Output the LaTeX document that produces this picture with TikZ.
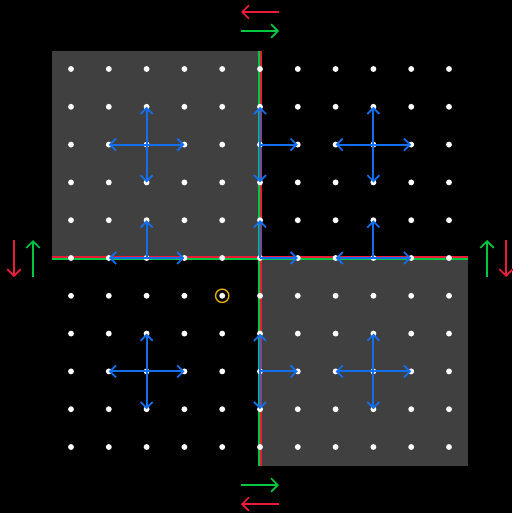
\documentclass[tikz,border=0pt]{standalone}
\usetikzlibrary{arrows.meta}
\definecolor{bgray}{RGB}{64,64,64}
\definecolor{ablue}{RGB}{18,112,240}
\definecolor{ared}{RGB}{236,28,56}
\definecolor{agreen}{RGB}{0,200,64}
\definecolor{agold}{RGB}{230,176,0}
\tikzset{
  blu/.style={draw=ablue, line width=1.6pt, -{Straight Barb[length=4.5pt,width=9pt,line width=1.3pt]}},
  sidearrow/.style={line width=1.5pt, -{Straight Barb[length=5pt,width=10pt,line width=1.3pt]}},
  dotnode/.style={circle, fill=white, inner sep=0pt, minimum size=4.4pt},
}
\begin{document}
\begin{tikzpicture}[x=0.75pt,y=-0.75pt]
\fill[black] (0,0) rectangle (512,513);
\useasboundingbox (0,0) rectangle (512,513);
% gray squares
\fill[bgray] (52,51) rectangle (260,258);
\fill[bgray] (260,258) rectangle (468,466);
% grid coordinates
\foreach \i in {0,...,10}{
  \foreach \j in {0,...,10}{
    \coordinate (p-\i-\j) at ({71+37.8*\i},{69+37.8*\j});
  }
}
% boundary lines
\coordinate (vt) at (260,51);
\coordinate (vb) at (260,466);
\coordinate (hl) at (52,258);
\coordinate (hr) at (468,258);
\draw[agreen, line width=1.5pt] ([xshift=-0.9pt]vt) -- ([xshift=-0.9pt]vb);
\draw[ared, line width=1.5pt] ([xshift=0.9pt]vt) -- ([xshift=0.9pt]vb);
\draw[ared, line width=1.5pt] ([yshift=0.9pt]hl) -- ([yshift=0.9pt]hr);
\draw[agreen, line width=1.5pt] ([yshift=-0.9pt]hl) -- ([yshift=-0.9pt]hr);
% dots
\foreach \i in {0,...,10}{
  \foreach \j in {0,...,10}{
    \node[dotnode] (d-\i-\j) at (p-\i-\j) {};
  }
}
% yellow ring
\node[circle, draw=agold, line width=1pt, inner sep=0pt, minimum size=10pt] (ring) at (p-4-6) {};
% blue full crosses
\foreach \i/\j in {2/2,8/2,2/8,8/8}{
  \pgfmathtruncatemacro{\ia}{\i-1}
  \pgfmathtruncatemacro{\ib}{\i+1}
  \pgfmathtruncatemacro{\ja}{\j-1}
  \pgfmathtruncatemacro{\jb}{\j+1}
  \draw[blu] (p-\i-\j) -- (p-\ia-\j);
  \draw[blu] (p-\i-\j) -- (p-\ib-\j);
  \draw[blu] (p-\i-\j) -- (p-\i-\ja);
  \draw[blu] (p-\i-\j) -- (p-\i-\jb);
}
% boundary half crosses
\draw[blu] (p-5-2) -- (p-5-1);
\draw[blu] (p-5-2) -- (p-5-3);
\draw[blu] (p-5-2) -- (p-6-2);
\draw[blu] (p-5-8) -- (p-5-7);
\draw[blu] (p-5-8) -- (p-5-9);
\draw[blu] (p-5-8) -- (p-6-8);
\draw[blu] (p-2-5) -- (p-2-4);
\draw[blu] (p-2-5) -- (p-1-5);
\draw[blu] (p-2-5) -- (p-3-5);
\draw[blu] (p-8-5) -- (p-8-4);
\draw[blu] (p-8-5) -- (p-7-5);
\draw[blu] (p-8-5) -- (p-9-5);
\draw[blu] (p-5-5) -- (p-5-4);
\draw[blu] (p-5-5) -- (p-6-5);
% side arrows
\coordinate (t1a) at (279,12); \coordinate (t1b) at (241,12);
\coordinate (t2a) at (241,31); \coordinate (t2b) at (279,31);
\draw[sidearrow, ared] (t1a) -- (t1b);
\draw[sidearrow, agreen] (t2a) -- (t2b);
\coordinate (b1a) at (241,485); \coordinate (b1b) at (279,485);
\coordinate (b2a) at (279,504); \coordinate (b2b) at (241,504);
\draw[sidearrow, agreen] (b1a) -- (b1b);
\draw[sidearrow, ared] (b2a) -- (b2b);
\coordinate (l1a) at (14,240); \coordinate (l1b) at (14,277);
\coordinate (l2a) at (33,277); \coordinate (l2b) at (33,240);
\draw[sidearrow, ared] (l1a) -- (l1b);
\draw[sidearrow, agreen] (l2a) -- (l2b);
\coordinate (r1a) at (487,277); \coordinate (r1b) at (487,240);
\coordinate (r2a) at (506,240); \coordinate (r2b) at (506,277);
\draw[sidearrow, agreen] (r1a) -- (r1b);
\draw[sidearrow, ared] (r2a) -- (r2b);
\end{tikzpicture}
\end{document}
